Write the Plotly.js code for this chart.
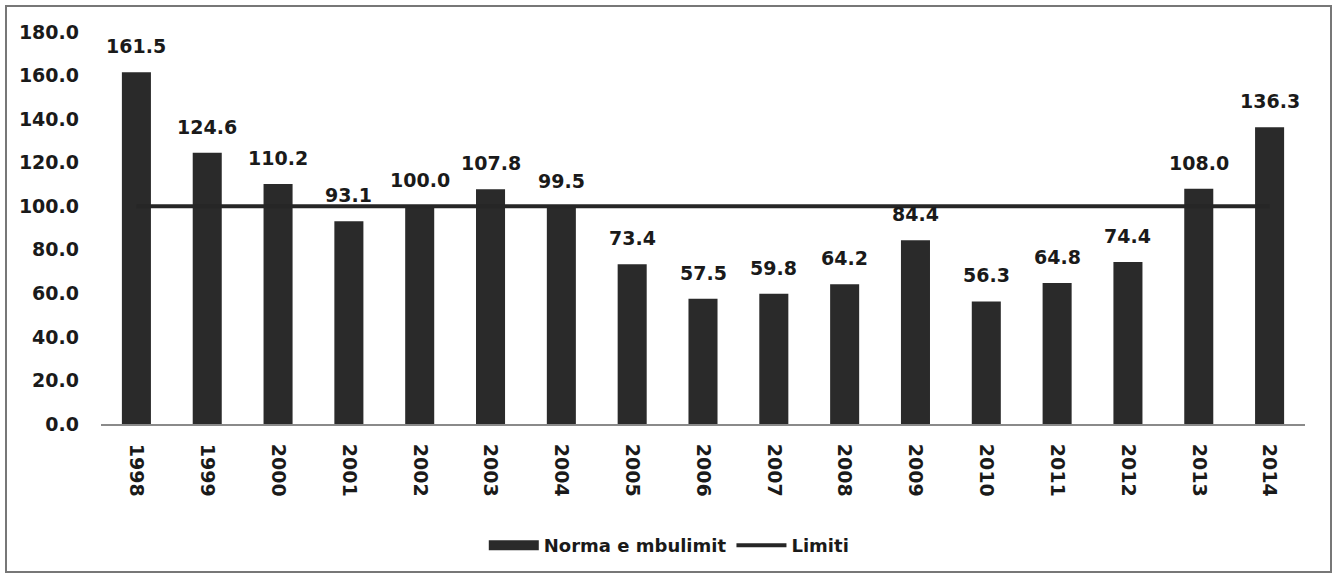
<!DOCTYPE html>
<html>
<head>
<meta charset="utf-8">
<script src="https://cdn.plot.ly/plotly-3.0.1.min.js"></script>
<style>
html,body{margin:0;padding:0;background:#fff;}
#wrap{position:relative;width:1335px;height:576px;}
#chart{width:1335px;height:576px;}
#frame{position:absolute;left:5px;top:5px;width:1323px;height:564px;border:2px solid #777;pointer-events:none;}
</style>
</head>
<body>
<div id="wrap"><div id="chart"></div><div id="frame"></div></div>
<script>
const years = ['1998','1999','2000','2001','2002','2003','2004','2005','2006','2007','2008','2009','2010','2011','2012','2013','2014'];
const coverage = [161.5,124.6,110.2,93.1,100.0,107.8,99.5,73.4,57.5,59.8,64.2,84.4,56.3,64.8,74.4,108.0,136.3];
const limitYears = ['1998','2014'];
const limitValues = [100,100];
const seriesNames = ['Norma e mbulimit','Limiti'];

const font = {family:'DejaVu Sans, Verdana, sans-serif', color:'#1a1a1a'};
const barColor = '#2a2a2a';

const traces = [
  {type:'bar', x:years, y:coverage, name:seriesNames[0], legendgroup:'g0', showlegend:false,
   marker:{color:barColor}, hoverinfo:'x+y'},
  // legend-only entry giving the bar series a wide rectangular key
  {type:'scatter', mode:'lines', x:[null], y:[null], name:seriesNames[0], legendgroup:'g0',
   line:{color:barColor, width:13}},
  {type:'scatter', mode:'lines', x:limitYears, y:limitValues, name:seriesNames[1],
   line:{color:'#262626', width:4}}
];

const annotations = years.map((yr,i)=>({
  x:i, y:coverage[i], xref:'x', yref:'y', text:coverage[i].toFixed(1),
  showarrow:false, yanchor:'bottom', yshift:13,
  font:{family:font.family, size:19, color:'#1a1a1a', weight:'bold'}
}));

const layout = {
  width:1335, height:576,
  margin:{l:101, r:30, t:32, b:150},
  paper_bgcolor:'#fff', plot_bgcolor:'#fff',
  bargap:0.59,
  showlegend:true,
  legend:{orientation:'h', x:0.472, xanchor:'center', y:-0.31, yanchor:'middle',
          font:{family:font.family, size:18, color:'#1a1a1a', weight:'bold'}, itemwidth:50},
  xaxis:{type:'category', categoryorder:'array', categoryarray:years,
         range:[-0.5, years.length-0.5], autorange:false,
         tickangle:90, showgrid:false, zeroline:false,
         showline:true, linecolor:'#8a8a8a', linewidth:2, ticks:'',
         ticklabelstandoff:14,
         tickfont:{family:font.family, size:19, color:'#1a1a1a', weight:'bold'}},
  yaxis:{range:[0,180], autorange:false, dtick:20, tickformat:'.1f', showgrid:false, zeroline:false,
         showline:false, ticks:'', ticklabelstandoff:21,
         tickfont:{family:font.family, size:19, color:'#1a1a1a', weight:'bold'}},
  annotations:annotations
};

Plotly.newPlot('chart', traces, layout, {displayModeBar:false, staticPlot:true});
</script>
</body>
</html>
